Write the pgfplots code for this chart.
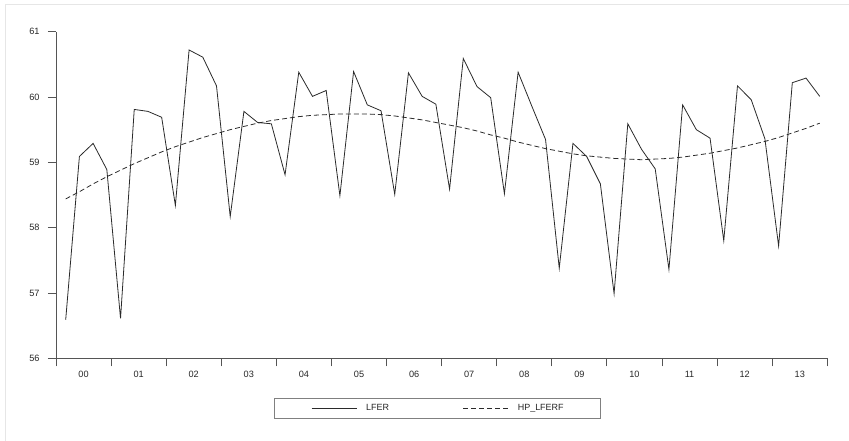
\documentclass[border=0pt]{standalone}
\usepackage{fontspec}
\setmainfont{Liberation Sans}
\usepackage{pgfplots}
\usepackage{pgfplotstable}
\pgfplotsset{compat=1.18}
\definecolor{axgray}{HTML}{555555}
\definecolor{linecol}{HTML}{2A2A2A}
\definecolor{framegray}{HTML}{E6E6E6}
\pgfplotstableread{
i lfer hp
0 56.59 58.44
1 59.09 58.55
2 59.29 58.67
3 58.89 58.78
4 56.61 58.88
5 59.81 58.98
6 59.78 59.07
7 59.69 59.16
8 58.34 59.24
9 60.72 59.31
10 60.61 59.38
11 60.17 59.44
12 58.17 59.50
13 59.78 59.55
14 59.61 59.60
15 59.59 59.64
16 58.81 59.67
17 60.38 59.70
18 60.01 59.72
19 60.10 59.73
20 58.49 59.74
21 60.39 59.74
22 59.88 59.74
23 59.79 59.73
24 58.51 59.71
25 60.37 59.68
26 60.01 59.65
27 59.89 59.61
28 58.59 59.57
29 60.59 59.53
30 60.16 59.48
31 59.99 59.42
32 58.52 59.37
33 60.38 59.31
34 59.86 59.26
35 59.35 59.21
36 57.38 59.17
37 59.29 59.13
38 59.09 59.10
39 58.67 59.08
40 56.99 59.06
41 59.59 59.05
42 59.20 59.04
43 58.90 59.05
44 57.36 59.06
45 59.88 59.08
46 59.50 59.11
47 59.37 59.14
48 57.80 59.18
49 60.17 59.22
50 59.96 59.27
51 59.36 59.32
52 57.72 59.38
53 60.22 59.45
54 60.29 59.52
55 60.01 59.60
}\datatable
\begin{document}
\begin{tikzpicture}[x=1bp,y=1bp]
\draw[framegray, line width=1bp] (5,0) -- (5,436) -- (849,436);
\begin{axis}[
  at={(56bp,82.7bp)}, anchor=south west,
  scale only axis, width=771.3bp, height=326.6bp,
  xmin=0, xmax=56, ymin=56, ymax=61,
  axis x line*=bottom, axis y line*=left,
  axis line style={axgray, line width=0.9bp, -},
  every tick/.style={axgray, line width=0.9bp},
  tick align=outside, major tick length=8bp,
  xtick={0,4,...,56},
  xticklabels={00,01,02,03,04,05,06,07,08,09,10,11,12,13},
  x tick label as interval,
  ytick={56,57,58,59,60,61},
  /pgf/number format/assume math mode=true,
  tick label style={font=\fontsize{9.2}{10}\selectfont, text=black!85},
  yticklabel style={xshift=-5bp},
  xticklabel style={yshift=-1bp},
  clip=false,
  legend columns=2,
  legend style={at={(0.4946,-0.153)}, anchor=center, draw=gray, line width=0.9bp,
    inner xsep=37bp, inner ysep=6bp,
    font=\fontsize{9}{10}\selectfont,
    nodes={inner sep=0pt, text=black!85},
    /tikz/every odd column/.append style={column sep=9bp},
    /tikz/every even column/.append style={column sep=74bp}},
  legend image code/.code={\draw[#1] (0bp,0bp) -- (45bp,0bp);},
]
\addplot[linecol, line width=0.8bp, line join=miter] table[x expr=\thisrow{i}*0.9954+0.704, y=lfer] {\datatable};
\addlegendentry{LFER}
\addplot[linecol, line width=0.8bp, dash pattern=on 5bp off 3bp] table[x expr=\thisrow{i}*0.9954+0.704, y=hp] {\datatable};
\addlegendentry{HP\_LFERF}
\end{axis}
\pgfresetboundingbox
\path[use as bounding box] (0bp,0bp) rectangle (849bp,441bp);
\end{tikzpicture}
\end{document}
